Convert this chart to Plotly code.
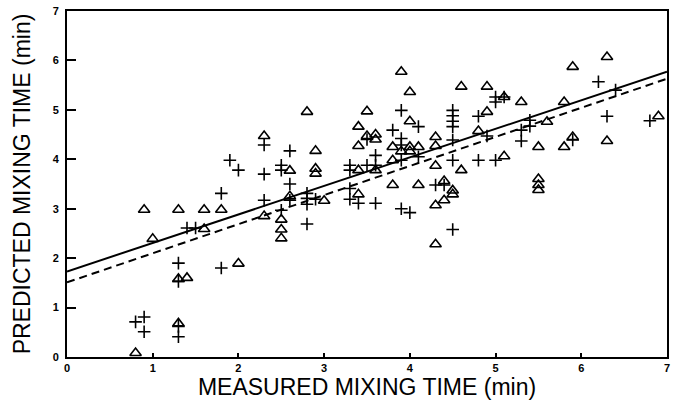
import plotly.graph_objects as go

# Triangles (one method)
tri_x = [0.8, 0.9, 1.0, 1.3, 1.3, 1.3, 1.4, 1.6, 1.6, 1.8, 2.0, 2.3, 2.3, 2.5, 2.5, 2.5,
         2.6, 2.6, 2.8, 2.9, 2.9, 2.9, 3.0, 3.4, 3.4, 3.4, 3.4, 3.5, 3.5, 3.6, 3.6, 3.6,
         3.8, 3.8, 3.8, 3.9, 3.9, 4.0, 4.0, 4.0, 4.0, 4.1, 4.1, 4.3, 4.3, 4.3, 4.3, 4.3,
         4.4, 4.4, 4.5, 4.5, 4.6, 4.6, 4.8, 4.9, 4.9, 5.1, 5.1, 5.3, 5.5, 5.5, 5.5, 5.5,
         5.6, 5.8, 5.8, 5.9, 5.9, 6.3, 6.3, 6.9]
tri_y = [0.08, 2.98, 2.39, 2.98, 1.58, 0.68, 1.60, 2.98, 2.59, 2.98, 1.89, 4.47, 2.85, 2.78, 2.58, 2.40,
         3.77, 3.25, 4.96, 4.17, 3.81, 3.71, 3.16, 4.66, 4.27, 3.78, 3.29, 4.97, 4.47, 4.50, 4.40, 3.78,
         4.25, 3.98, 3.48, 5.77, 4.16, 5.36, 4.77, 4.25, 4.16, 4.25, 3.48, 4.45, 4.27, 3.87, 3.07, 2.28,
         3.56, 3.17, 3.37, 3.29, 5.47, 3.78, 4.57, 5.47, 4.96, 5.26, 4.06, 5.16, 4.25, 3.60, 3.48, 3.38,
         4.76, 5.16, 4.25, 5.87, 4.45, 6.07, 4.37, 4.87]

# Crosses (other method)
plus_x = [0.8, 0.9, 0.9, 1.3, 1.3, 1.3, 1.3, 1.4, 1.5, 1.8, 1.8, 1.9, 2.0, 2.3, 2.3, 2.3,
          2.5, 2.5, 2.5, 2.6, 2.6, 2.6, 2.8, 2.8, 2.8, 2.8, 2.9, 3.3, 3.3, 3.3, 3.3, 3.4,
          3.5, 3.5, 3.6, 3.6, 3.6, 3.8, 3.9, 3.9, 3.9, 3.9, 3.9, 4.0, 4.1, 4.1, 4.3, 4.4,
          4.5, 4.5, 4.5, 4.5, 4.5, 4.5, 4.5, 4.8, 4.8, 4.9, 5.0, 5.0, 5.0, 5.1, 5.3, 5.3,
          5.4, 5.4, 5.9, 6.2, 6.3, 6.4, 6.8]
plus_y = [0.71, 0.81, 0.51, 1.90, 1.53, 0.62, 0.41, 2.61, 2.61, 3.31, 1.80, 3.98, 3.78, 4.29, 3.70, 3.17,
          3.88, 3.78, 2.97, 4.17, 3.50, 3.17, 3.31, 3.21, 3.09, 2.69, 3.19, 3.88, 3.78, 3.41, 3.19, 3.11,
          4.40, 3.88, 4.08, 3.88, 3.11, 4.59, 4.99, 4.42, 4.29, 3.98, 3.00, 2.92, 4.66, 4.05, 3.48, 3.48,
          4.99, 4.88, 4.77, 4.66, 4.39, 3.98, 2.58, 4.87, 3.98, 4.47, 5.26, 5.16, 3.98, 5.26, 4.59, 4.37,
          4.79, 4.67, 4.39, 5.57, 4.87, 5.40, 4.78]

# Regression lines (endpoints at x = 0 and x = 7)
line_x = [0, 7]
solid_y = [1.73, 5.77]
dashed_y = [1.51, 5.63]

x_ticks = [0, 1, 2, 3, 4, 5, 6, 7]
y_ticks = [0, 1, 2, 3, 4, 5, 6, 7]
x_labels = ["<b>%d</b>" % v for v in x_ticks]
y_labels = ["<b>%d</b>" % v for v in y_ticks]

fig = go.Figure()
fig.add_trace(go.Scatter(x=line_x, y=solid_y, mode="lines",
                         line=dict(color="black", width=2), showlegend=False))
fig.add_trace(go.Scatter(x=line_x, y=dashed_y, mode="lines",
                         line=dict(color="black", width=2, dash="8px,5px"), showlegend=False))
fig.add_trace(go.Scatter(x=tri_x, y=tri_y, mode="markers",
                         marker=dict(symbol="triangle-up-open", size=10, color="black",
                                     line=dict(color="black", width=1.6)),
                         showlegend=False))
fig.add_trace(go.Scatter(x=plus_x, y=plus_y, mode="markers",
                         marker=dict(symbol="cross-thin-open", size=9, color="black",
                                     line=dict(color="black", width=1.6)),
                         showlegend=False))

tick_font = dict(family="Liberation Sans", size=11, color="black")
title_font = dict(family="Liberation Sans", size=23, color="black")

axis_common = dict(showgrid=False, zeroline=False, showline=True, linecolor="black",
                   linewidth=2, mirror=True, ticks="inside", tickcolor="black",
                   tickwidth=1.5, tickfont=tick_font, automargin=False,
                   ticklabeloverflow="allow", tickmode="array")

fig.update_xaxes(range=[0, 7], tickvals=x_ticks, ticktext=x_labels, ticklen=4,
                 ticklabelstandoff=0, **axis_common,
                 title=dict(text="MEASURED MIXING TIME (min)", standoff=3, font=title_font))
fig.update_yaxes(range=[0, 7], tickvals=y_ticks, ticktext=y_labels, ticklen=9,
                 ticklabelstandoff=4, **axis_common,
                 title=dict(text="PREDICTED MIXING TIME (min)", standoff=16, font=title_font))

fig.update_layout(width=677, height=402, autosize=False,
                  margin=dict(l=67, r=10, t=11, b=45),
                  plot_bgcolor="white", paper_bgcolor="white")

fig.write_html("out.html", config={"displayModeBar": False},
               post_script="document.body.style.margin='0';document.body.style.padding='0';")
